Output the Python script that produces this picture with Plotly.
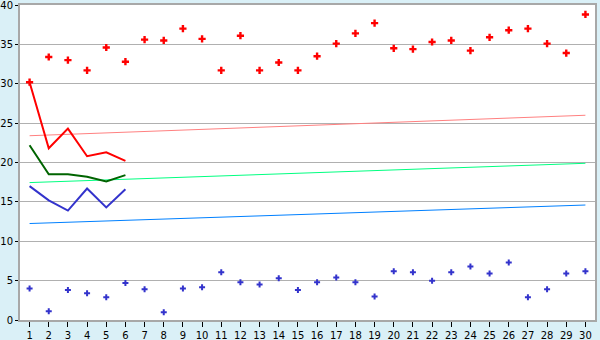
import plotly.graph_objects as go

days = list(range(1, 31))
red_points = [30.2, 33.4, 33.0, 31.7, 34.6, 32.8, 35.6, 35.5, 37.0, 35.7,
              31.7, 36.1, 31.7, 32.7, 31.7, 33.5, 35.1, 36.4, 37.7, 34.5,
              34.4, 35.3, 35.5, 34.2, 35.9, 36.8, 37.0, 35.1, 33.9, 38.8]
blue_points = [4.0, 1.1, 3.8, 3.4, 2.9, 4.7, 3.9, 1.0, 4.0, 4.15,
               6.05, 4.8, 4.5, 5.3, 3.8, 4.8, 5.4, 4.8, 3.0, 6.2,
               6.05, 5.0, 6.05, 6.8, 5.9, 7.3, 2.9, 3.9, 5.9, 6.2]
line_days = [1, 2, 3, 4, 5, 6]
red_line = [30.2, 21.8, 24.3, 20.8, 21.3, 20.2]
green_line = [22.2, 18.5, 18.5, 18.2, 17.6, 18.4]
blue_line = [17.0, 15.2, 13.9, 16.7, 14.3, 16.6]
trend_days = [1, 30]
red_trend = [23.4, 26.0]
green_trend = [17.45, 19.9]
blue_trend = [12.25, 14.6]
y_ticks = [0, 5, 10, 15, 20, 25, 30, 35, 40]

fig = go.Figure()
fig.add_trace(go.Scatter(x=trend_days, y=red_trend, mode="lines",
                         line=dict(color="#ff8080", width=1)))
fig.add_trace(go.Scatter(x=trend_days, y=green_trend, mode="lines",
                         line=dict(color="#00ff80", width=1)))
fig.add_trace(go.Scatter(x=trend_days, y=blue_trend, mode="lines",
                         line=dict(color="#0080ff", width=1)))
fig.add_trace(go.Scatter(x=line_days, y=red_line, mode="lines",
                         line=dict(color="#ff0000", width=2)))
fig.add_trace(go.Scatter(x=line_days, y=green_line, mode="lines",
                         line=dict(color="#006400", width=2)))
fig.add_trace(go.Scatter(x=line_days, y=blue_line, mode="lines",
                         line=dict(color="#3333cc", width=2)))
fig.add_trace(go.Scatter(x=days, y=red_points, mode="markers",
                         marker=dict(symbol="cross", size=6, color="#ff0000",
                                     line=dict(width=0))))
fig.add_trace(go.Scatter(x=days, y=blue_points, mode="markers",
                         marker=dict(symbol="cross", size=5, color="#3333cc",
                                     line=dict(width=0))))

fig.update_layout(
    width=600, height=340,
    margin=dict(l=20, r=5, t=5, b=20),
    paper_bgcolor="#daf0f7",
    plot_bgcolor="#ffffff",
    showlegend=False,
    font=dict(family="DejaVu Sans", size=10, color="#000000"),
)
fig.update_xaxes(
    range=[0.5, 30.5], tickvals=days, ticktext=[str(d) for d in days],
    showgrid=False, showline=True, linecolor="#a8a8a8", linewidth=2,
    mirror=True, ticks="outside", ticklen=5, tickcolor="#000000",
    tickfont=dict(size=10), zeroline=False, automargin=False,
    ticklabeloverflow="allow",
)
fig.update_yaxes(
    range=[0, 40], tickvals=y_ticks,
    showgrid=True, gridcolor="#b0b0b0", gridwidth=1,
    showline=True, linecolor="#a8a8a8", linewidth=2, mirror=True,
    ticks="outside", ticklen=3, tickcolor="#000000",
    tickfont=dict(size=10), zeroline=False, automargin=False,
    ticklabeloverflow="allow",
)
fig.write_html("out.html")
